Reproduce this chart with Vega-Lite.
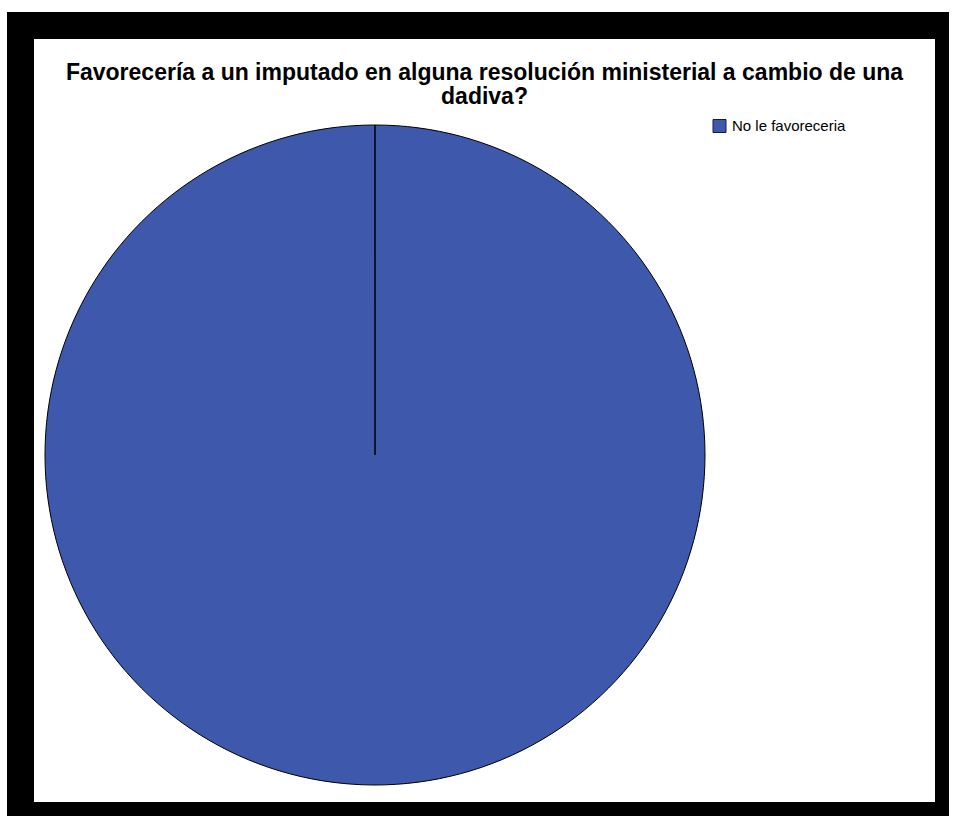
{
  "$schema": "https://vega.github.io/schema/vega-lite/v6.json",
  "autosize": "none",
  "width": 928,
  "height": 790,
  "padding": {"left": 20.5, "top": 25.5, "right": 0, "bottom": 0},
  "background": "white",
  "view": {"fill": "white", "stroke": "black", "strokeWidth": 27},
  "title": {
    "text": ["Favorecería a un imputado en alguna resolución ministerial a cambio de una", "dadiva?"],
    "font": "Liberation Sans",
    "fontWeight": "bold",
    "fontSize": 23,
    "lineHeight": 24,
    "color": "black",
    "anchor": "middle",
    "offset": -83
  },
  "data": {"values": [{"respuesta": "No le favoreceria", "porcentaje": 100}]},
  "mark": {"type": "arc", "x": 354.5, "y": 429.5, "outerRadius": 330, "stroke": "black", "strokeWidth": 1},
  "encoding": {
    "theta": {"field": "porcentaje", "type": "quantitative", "scale": {"domain": [0, 100.001]}},
    "color": {
      "field": "respuesta",
      "type": "nominal",
      "scale": {"domain": ["No le favoreceria"], "range": ["#3e58ac"]},
      "legend": {
        "title": null,
        "orient": "none",
        "legendX": 691.5,
        "legendY": 93,
        "padding": 0,
        "symbolType": "square",
        "symbolSize": 169,
        "symbolStrokeColor": "#1a1a3a",
        "symbolStrokeWidth": 1,
        "symbolOpacity": 1,
        "labelFont": "Liberation Sans",
        "labelFontSize": 15,
        "labelColor": "black",
        "labelOffset": 5
      }
    }
  }
}
